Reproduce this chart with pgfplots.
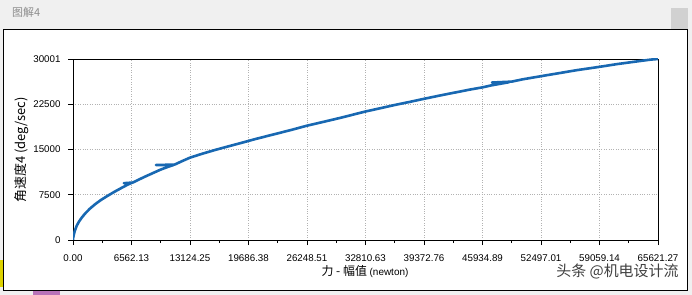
\documentclass[border=0pt]{standalone}
\usepackage{pgfplots}
\pgfplotsset{compat=1.18}
\usepackage{fontspec}
\setmainfont{Liberation Sans}
\newfontfamily\cjk{Noto Sans CJK SC}
\definecolor{curve}{RGB}{24,104,178}

\pgfplotstableread{
x y
0 0
20 350
80 800
200 1500
400 2300
650 3000
1000 3750
1400 4450
1900 5200
2500 5950
3100 6600
3800 7250
4600 7950
5400 8600
6100 9150
6600 9480
5700 9420
6700 9520
7300 9950
8000 10450
8900 11050
9800 11650
10700 12150
11300 12450
9300 12430
11400 12500
12200 13050
13124 13650
14500 14300
16000 14950
17500 15550
18766 16050
20500 16750
22500 17500
24500 18250
26250 18950
28000 19550
30000 20250
32810 21300
34500 21850
36000 22350
37800 22900
39370 23400
41000 23900
42700 24400
44400 24900
45930 25300
47000 25650
48900 26150
47000 26100
49200 26250
50500 26650
52490 27150
54500 27650
56500 28150
59050 28700
61000 29150
63000 29550
64800 29900
65621 30001
}\curvedata

\begin{document}
\begin{tikzpicture}
\useasboundingbox (0,0) rectangle (692bp,295bp);
\fill[black!6] (0,0) rectangle (692bp,295bp);
\fill[black!18] (671bp,262bp) rectangle (688bp,287bp);
\fill[violet!55] (33bp,0bp) rectangle (60bp,4bp);
\fill[yellow!70!olive] (0bp,8bp) rectangle (3bp,35bp);
\node[anchor=west, text=black!45, font=\cjk\fontsize{11}{13}\selectfont, inner sep=0pt] at (12bp,283bp) {图解4};
\filldraw[fill=white, draw=black, line width=1bp] (3.5bp,4bp) rectangle (687bp,265bp);
\begin{axis}[
  scale only axis, width=585bp, height=181bp,
  at={(73bp,55bp)}, anchor=south west,
  xmin=0, xmax=65621.27, ymin=0, ymax=30001,
  axis line style={black, line width=0.8bp},
  xtick={0,6562.127,13124.254,19686.381,26248.508,32810.635,39372.762,45934.889,52497.016,59059.143,65621.27},
  xticklabels={0.00,6562.13,13124.25,19686.38,26248.51,32810.63,39372.76,45934.89,52497.01,59059.14,65621.27},
  ytick={0,7500,15000,22500,30001},
  yticklabels={0,7500,15000,22500,30001},
  scaled ticks=false,
  minor x tick num=1, minor y tick num=1,
  tick align=outside, xtick pos=bottom, ytick pos=left,
  major tick length=5bp, minor tick length=3bp,
  tick style={black, line width=0.8bp},
  grid=major, major grid style={dotted, black!30, line width=0.6bp},
  ticklabel style={font=\fontsize{9.8}{11}\selectfont},
  xticklabel style={yshift=-6bp},
  yticklabel style={xshift=-4bp},
]
\addplot[curve, line width=2.6bp, line join=round] table[x=x,y=y] {\curvedata};
\end{axis}
\node[font=\fontsize{12}{14}\selectfont] at (365bp,23bp) {\cjk 力 - 幅值 \rmfamily\fontsize{10}{12}\selectfont(newton)};
\node[rotate=90, font=\fontsize{13}{15}\selectfont] at (22bp,145bp) {\cjk 角速度4 (deg/sec)};
\node[anchor=east, font=\cjk\fontsize{15}{17}\selectfont, text=black!75] at (682bp,23bp) {头条 @机电设计流};
\end{tikzpicture}
\end{document}
